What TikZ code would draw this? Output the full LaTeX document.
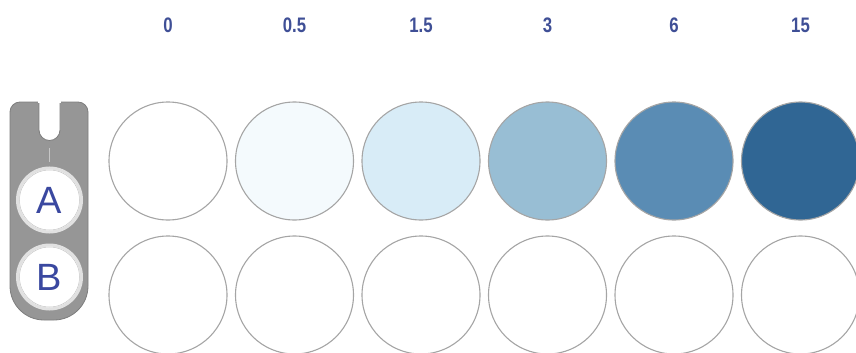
\documentclass[tikz,border=0pt]{standalone}
\usepackage{fontspec}
\usepackage{xcolor}
\usepackage{tikz}
\usetikzlibrary{calc,positioning}
\newfontfamily\doseFont[FakeStretch=0.8]{Liberation Sans}
\newfontfamily\rowFont{Liberation Sans}
\definecolor{doseBlue}{RGB}{63,79,150}
\definecolor{rowBlue}{RGB}{58,72,160}
\definecolor{wellEdge}{RGB}{165,165,165}
\definecolor{holderGray}{RGB}{150,150,150}
\definecolor{holderEdge}{RGB}{125,125,125}
\definecolor{ringGray}{RGB}{225,225,225}
\definecolor{wellZero}{RGB}{255,255,255}
\definecolor{wellHalf}{RGB}{244,250,253}
\definecolor{wellOneHalf}{RGB}{216,236,247}
\definecolor{wellThree}{RGB}{152,190,212}
\definecolor{wellSix}{RGB}{90,140,180}
\definecolor{wellFifteen}{RGB}{48,102,148}

\begin{document}
\begin{tikzpicture}[x=1pt,y=-1pt,
    well/.style={circle, draw=wellEdge, line width=1.1pt, minimum size=118pt, inner sep=0pt},
    dose/.style={text=doseBlue, font=\doseFont\bfseries\fontsize{21}{21}\selectfont},
    rowbtn/.style={circle, draw=ringGray, line width=3pt, fill=white, minimum size=64pt, inner sep=0pt,
        text=rowBlue, font=\rowFont\fontsize{38}{38}\selectfont}]
    \useasboundingbox (0,0) rectangle (856,353);
    % holder with slot
    \fill[holderGray, draw=holderEdge, line width=0.8pt]
        [rounded corners=10pt] (49,102) -- (10,102) -- (10,250)
        [rounded corners=34pt] -- (10,320) -- (88,320)
        [rounded corners=10pt] -- (88,102) -- cycle;
    \fill[white, draw=holderEdge, line width=0.8pt]
        (39,100) -- (39,130) arc[start angle=180, end angle=0, radius=10.5] -- (60,100);
    \fill[white] (38,99) rectangle (61,102.6);
    \draw[gray!45, line width=0.8pt] (49.5,148) -- (49.5,162);
    \node[rowbtn] (rowA) at (49.5,200) {A};
    \node[rowbtn] (rowB) at (49.5,277) {B};
    \draw[gray!45, line width=0.5pt] (rowA) circle (30pt);
    \draw[gray!45, line width=0.5pt] (rowB) circle (30pt);
    % doses
    \node[dose] (d1) at (168,25) {0};
    \node[dose] (d2) at (294.5,25) {0.5};
    \node[dose] (d3) at (421,25) {1.5};
    \node[dose] (d4) at (547.5,25) {3};
    \node[dose] (d5) at (674,25) {6};
    \node[dose] (d6) at (800.5,25) {15};
    % row A
    \node[well, fill=wellZero] (a1) at (168,161) {};
    \node[well, fill=wellHalf] (a2) at (294.5,161) {};
    \node[well, fill=wellOneHalf] (a3) at (421,161) {};
    \node[well, fill=wellThree] (a4) at (547.5,161) {};
    \node[well, fill=wellSix] (a5) at (674,161) {};
    \node[well, fill=wellFifteen] (a6) at (800.5,161) {};
    % row B
    \node[well, fill=white] (b1) at (168,295) {};
    \node[well, fill=white] (b2) at (294.5,295) {};
    \node[well, fill=white] (b3) at (421,295) {};
    \node[well, fill=white] (b4) at (547.5,295) {};
    \node[well, fill=white] (b5) at (674,295) {};
    \node[well, fill=white] (b6) at (800.5,295) {};
\end{tikzpicture}
\end{document}
